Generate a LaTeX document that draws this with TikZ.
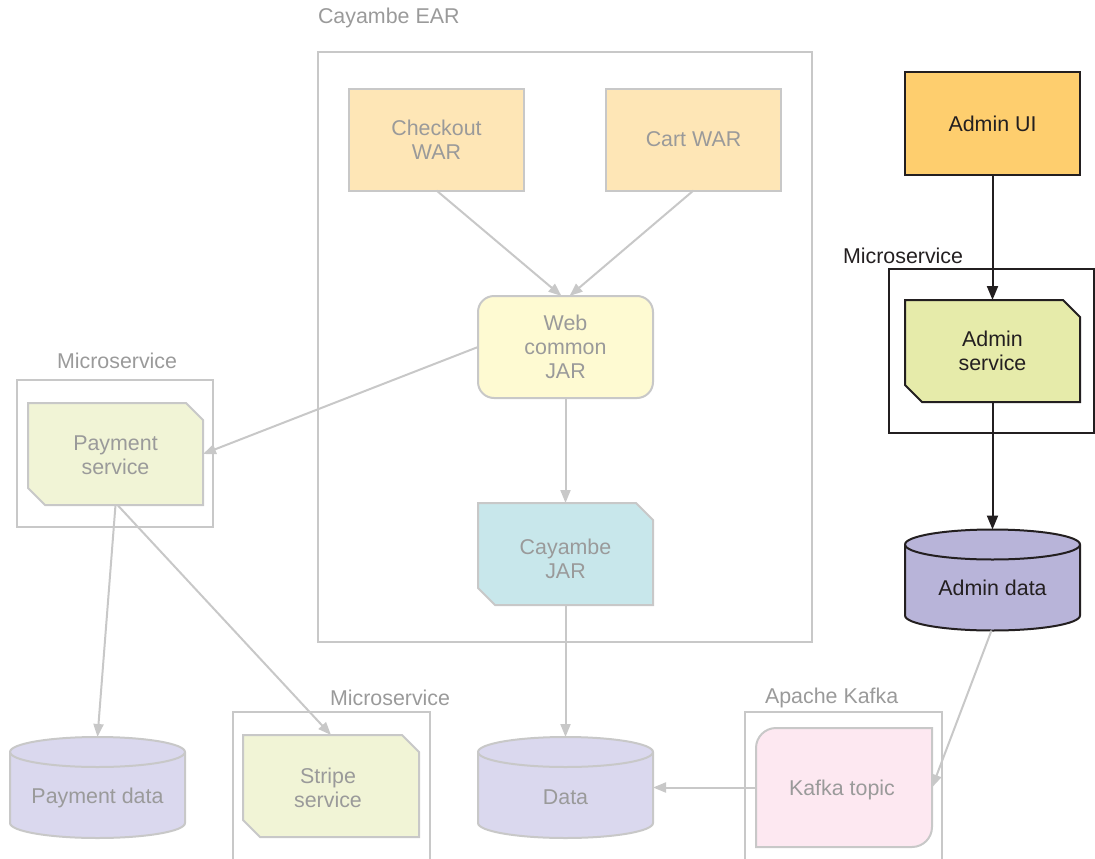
\documentclass[tikz,border=0pt]{standalone}
\usepackage{fontspec}
\setmainfont{Liberation Sans}
\usetikzlibrary{arrows.meta,backgrounds,calc}

\definecolor{lineGray}{HTML}{C8C8C8}
\definecolor{textGray}{HTML}{9A9A9A}
\definecolor{inkBlack}{HTML}{231F20}
\definecolor{warFill}{HTML}{FEE6B6}
\definecolor{webFill}{HTML}{FEFAD2}
\definecolor{jarFill}{HTML}{C8E7EB}
\definecolor{uiFill}{HTML}{FECE6E}
\definecolor{adminSvcFill}{HTML}{E6EBAA}
\definecolor{adminDbFill}{HTML}{B8B4D9}
\definecolor{svcFill}{HTML}{F1F4D6}
\definecolor{dbFill}{HTML}{DAD8EE}
\definecolor{kafkaFill}{HTML}{FDE8F1}

% draw a database cylinder around the frame of node #1
\newcommand\dbcylinder[2]{%
  \draw[#2] ([yshift=-15pt]#1.north west) -- ([yshift=15pt]#1.south west)
    arc[start angle=180,end angle=360,x radius=87.5pt,y radius=15pt]
    -- ([yshift=-15pt]#1.north east)
    arc[start angle=0,end angle=180,x radius=87.5pt,y radius=15pt] -- cycle;
  \draw[#2,fill=none] ([yshift=-15pt]#1.north west)
    arc[start angle=180,end angle=360,x radius=87.5pt,y radius=15pt];}

% draw a box with the north-east and south-west corners cut off
\newcommand\cutbox[2]{%
  \draw[#2] (#1.north west) -- ([xshift=-17pt]#1.north east)
    -- ([yshift=-17pt]#1.north east) -- (#1.south east)
    -- ([xshift=17pt]#1.south west) -- ([yshift=17pt]#1.south west) -- cycle;}

\begin{document}
\begin{tikzpicture}[x=1pt,y=1pt,
  every node/.style={font=\fontsize{21.4}{24}\selectfont, align=center, outer sep=0pt, inner sep=0pt},
  frame/.style={minimum width=175pt, minimum height=102pt},
  grayTxt/.style={text=textGray},
  blackTxt/.style={text=inkBlack},
  grayEdge/.style={draw=lineGray, line width=2pt},
  blackEdge/.style={draw=inkBlack, line width=2pt},
  container/.style={draw=lineGray, line width=2pt},
  tag/.style={anchor=west},
  grayArrow/.style={draw=lineGray, line width=2pt, -{Triangle[length=13pt,width=10pt]}},
  blackArrow/.style={draw=inkBlack, line width=2pt, -{Triangle[length=14pt,width=11pt]}}
]
\useasboundingbox (0,0) rectangle (1095,-859);

% ---- containers and their captions ----
\draw[container] (318,-52) rectangle (812,-642);
\node[tag, grayTxt] (earTag) at (318,-18) {Cayambe EAR};

\draw[draw=inkBlack, line width=2pt] (889,-269) rectangle (1094,-433);
\node[tag, blackTxt] (msTagR) at (843,-256) {Microservice};

\draw[container] (17,-380) rectangle (213,-527);
\node[tag, grayTxt] (msTagL) at (57,-361) {Microservice};

\draw[container] (233,-862) -- (233,-712) -- (430,-712) -- (430,-862);
\node[tag, grayTxt] (msTagB) at (330,-698) {Microservice};

\draw[container] (745,-862) -- (745,-712) -- (942,-712) -- (942,-862);
\node[tag, grayTxt] (kafkaTag) at (765,-698) {Apache Kafka};

% ---- components ----
\node[frame, grayTxt, grayEdge, fill=warFill, text depth=-1pt] (checkout) at (436.5,-139.5) {Checkout\\WAR};
\node[frame, grayTxt, grayEdge, fill=warFill] (cart) at (693.5,-139.5) {\raisebox{-1pt}{Cart WAR}};
\node[frame, grayTxt, grayEdge, fill=webFill, rounded corners=16pt] (web) at (565.5,-347) {Web\\common\\JAR};
\node[frame] (cjar) at (565.5,-554) {};
\node[grayTxt] (cjarTxt) at ([yshift=-5pt]cjar.center) {Cayambe\\JAR};
\node[frame, blackTxt, blackEdge, fill=uiFill] (adminui) at (992.5,-123.5) {\raisebox{-2pt}{Admin UI}};
\node[frame, blackTxt] (adminsvc) at (992.5,-351) {Admin\\service};
\node[frame] (paysvc) at (115.5,-454) {};
\node[grayTxt] (paysvcTxt) at ([yshift=-1pt]paysvc.center) {Payment\\service};
\node[frame, minimum width=176pt] (stripe) at (331,-786) {};
\node[grayTxt] (stripeTxt) at ([xshift=-3pt,yshift=-2pt]stripe.center) {Stripe\\service};
\node[frame, minimum height=101pt] (admindata) at (992.5,-580) {};
\node[blackTxt] (admindataTxt) at ([yshift=-8pt]admindata.center) {Admin data};
\node[frame, minimum height=101pt] (paydata) at (97.5,-787.5) {};
\node[grayTxt] (paydataTxt) at ([yshift=-10pt]paydata.center) {Payment data};
\node[frame, minimum height=101pt] (data) at (565.5,-787.5) {};
\node[grayTxt] (dataTxt) at ([yshift=-10pt]data.center) {Data};
\node[frame, minimum width=176pt, minimum height=119pt] (kafka) at (844,-787.5) {};
\node[grayTxt] (kafkaTxt) at ([xshift=-2pt,yshift=-2pt]kafka.center) {Kafka topic};

\begin{scope}[on background layer]
  \cutbox{cjar}{grayEdge, fill=jarFill}
  \cutbox{adminsvc}{blackEdge, fill=adminSvcFill}
  \cutbox{paysvc}{grayEdge, fill=svcFill}
  \cutbox{stripe}{grayEdge, fill=svcFill}
  \dbcylinder{admindata}{blackEdge, fill=adminDbFill}
  \dbcylinder{paydata}{grayEdge, fill=dbFill}
  \dbcylinder{data}{grayEdge, fill=dbFill}
  \draw[grayEdge, fill=kafkaFill] (kafka.north east) -- ([xshift=20pt]kafka.north west)
    arc[start angle=90,end angle=180,radius=20pt] -- (kafka.south west)
    -- ([xshift=-20pt]kafka.south east)
    arc[start angle=270,end angle=360,radius=20pt] -- cycle;
\end{scope}

% ---- connectors ----
\draw[grayArrow] (checkout.south) -- ([xshift=-4pt]web.north);
\draw[grayArrow] (cart.south) -- ([xshift=4pt]web.north);
\draw[grayArrow] (web.west) -- (paysvc.east);
\draw[grayArrow] (web.south) -- (cjar.north);
\draw[grayArrow] (cjar.south) -- (data.north);
\draw[grayArrow] (paysvc.south) -- (paydata.north);
\draw[grayArrow] ([xshift=2pt]paysvc.south) -- (stripe.north);
\draw[grayArrow] (kafka.west) -- (data.east);
\draw[grayArrow] ([xshift=-1pt]admindata.south) -- (kafka.east);
\draw[blackArrow] (adminui.south) -- (adminsvc.north);
\draw[blackArrow] (adminsvc.south) -- (admindata.north);
\end{tikzpicture}
\end{document}
